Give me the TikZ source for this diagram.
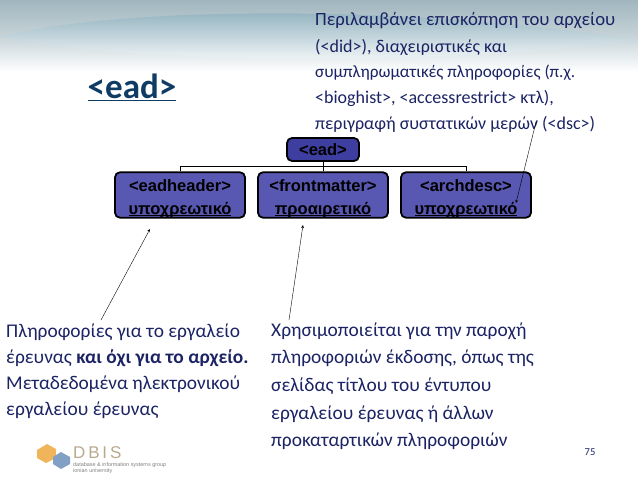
\documentclass[tikz,border=0pt]{standalone}
\usepackage{fontspec}
\setmainfont{Carlito}
\setsansfont{Liberation Sans}
\usetikzlibrary{arrows}
\definecolor{slideink}{RGB}{27,35,100}
\definecolor{titleink}{RGB}{15,60,100}
\definecolor{boxtop}{RGB}{62,62,160}
\definecolor{boxlow}{RGB}{88,88,178}
\definecolor{bandtone}{RGB}{160,182,190}
\definecolor{lenstone}{RGB}{150,190,205}
\definecolor{logoorange}{RGB}{240,180,90}
\definecolor{logoblue}{RGB}{130,160,195}
\newcommand{\boxstrut}{\rule{0pt}{19pt}}
\newsavebox{\underbox}
\newcommand{\boxunder}[1]{\sbox{\underbox}{#1}\usebox{\underbox}\llap{\rule[-2.2pt]{\wd\underbox}{1.1pt}}}
\tikzset{
  treebox/.style={draw=black, line width=1.8pt, rounded corners=5pt, fill=boxlow, minimum width=130pt, minimum height=41pt, align=center, font=\sffamily\bfseries\fontsize{16.5}{23}\selectfont, inner sep=0pt},
  slidetext/.style={anchor=west, text=slideink, font=\fontsize{19.4}{23}\selectfont, inner sep=0pt},
  toptext/.style={slidetext, font=\fontsize{18}{22}\selectfont}
}
\begin{document}
\begin{tikzpicture}[x=1pt,y=-1pt,>=stealth]
  \useasboundingbox (0,0) rectangle (638,479);
  % band
  \shade [top color=bandtone, bottom color=white, middle color=bandtone!60] (0,0) rectangle (638,72);
  \shade [top color=lenstone!90!black, bottom color=white] (0,37) .. controls (120,5) and (420,5) .. (638,40) .. controls (500,62) and (150,68) .. (0,37);
  % tree
  \node [treebox, fill=boxtop, minimum width=72pt, minimum height=23pt] (ead) at (323,149.5) {<ead>};
  \node [treebox] (eadheader) at (180,195) {\boxstrut<eadheader>\\\boxunder{υποχρεωτικό}};
  \node [treebox] (frontmatter) at (323,195) {\boxstrut<frontmatter>\\\boxunder{προαιρετικό}};
  \node [treebox] (archdesc) at (466,195) {\boxstrut<archdesc>\\\boxunder{υποχρεωτικό}};
  \draw [line width=0.9pt] (ead.south) -- (frontmatter.north);
  \draw [line width=0.9pt] (ead.south) -- ++(0,5) -| (eadheader.north);
  \draw [line width=0.9pt] (ead.south) -- ++(0,5) -| (archdesc.north);
  % title
  \node [text=titleink, font=\bfseries\fontsize{35}{40}\selectfont, inner sep=1pt] (title) at (132,87) {\underline{<ead>}};
  % texts
  \node [toptext, font=\fontsize{18.7}{22}\selectfont] (t1) at (315,21) {Περιλαμβάνει επισκόπηση του αρχείου};
  \node [toptext] (t2) at (315,47) {(<did>), διαχειριστικές και};
  \node [toptext, font=\fontsize{17.2}{22}\selectfont] (t3) at (315,73) {συμπληρωματικές πληροφορίες (π.χ.};
  \node [toptext] (t4) at (315,98) {<bioghist>, <accessrestrict> κτλ),};
  \node [toptext] (t5) at (315,124) {περιγραφή συστατικών μερών (<dsc>)};
  \node [slidetext] (l1) at (6,332) {Πληροφορίες για το εργαλείο};
  \node [slidetext] (l2) at (6,358) {έρευνας \textbf{και όχι για το αρχείο.}};
  \node [slidetext] (l3) at (6,384) {Μεταδεδομένα ηλεκτρονικού};
  \node [slidetext] (l4) at (6,410) {εργαλείου έρευνας};
  \node [slidetext] (m1) at (271,331) {Χρησιμοποιείται για την παροχή};
  \node [slidetext] (m2) at (271,358) {πληροφοριών έκδοσης, όπως της};
  \node [slidetext] (m3) at (271,386) {σελίδας τίτλου του έντυπου};
  \node [slidetext] (m4) at (271,414) {εργαλείου έρευνας ή άλλων};
  \node [slidetext] (m5) at (271,441) {προκαταρτικών πληροφοριών};
  \node [text=slideink, font=\fontsize{10.5}{12}\selectfont, inner sep=0pt] (page) at (590,452) {75};
  % arrows
  \coordinate (a1s) at (101,320);
  \coordinate (a1e) at (150,229);
  \coordinate (a2s) at (289,320);
  \coordinate (a2e) at (303,225);
  \coordinate (a3s) at (536,122);
  \coordinate (a3e) at (516,203);
  \draw [->] (a1s) -- (a1e);
  \draw [->] (a2s) -- (a2e);
  \draw [->] (a3s) -- (a3e);
  % logo
  \fill [logoorange] (37,450) -- (47,444) -- (56,449) -- (56,458) -- (46,463) -- (37,458) -- cycle;
  \fill [logoblue] (53,457) -- (61,452) -- (70,457) -- (70,464) -- (61,469) -- (53,464) -- cycle;
  \node [anchor=west, text=logoorange!50!logoblue, font=\sffamily\fontsize{17}{17}\selectfont, inner sep=0pt] (dbislogo) at (73,453) {D\,B\,I\,S};
  \node [anchor=west, text=black!50, font=\sffamily\fontsize{5.45}{7}\selectfont, inner sep=0pt] (dbisa) at (73,465) {database \& information systems group};
  \node [anchor=west, text=black!50, font=\sffamily\fontsize{5.45}{7}\selectfont, inner sep=0pt] (dbisb) at (73,471) {ionian university};
\end{tikzpicture}
\end{document}
